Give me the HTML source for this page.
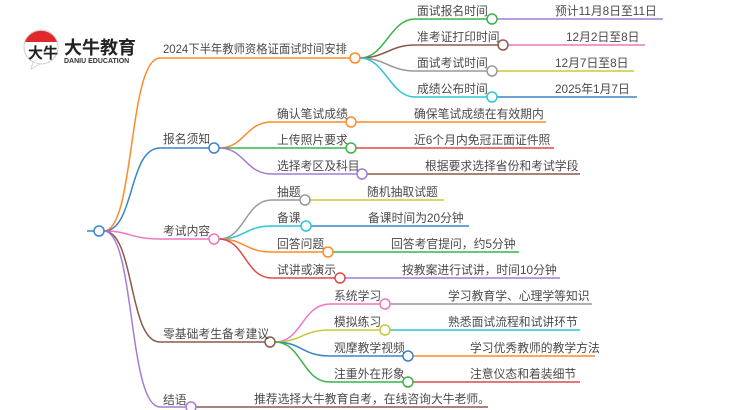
<!DOCTYPE html>
<html><head><meta charset="utf-8"><style>
html,body{margin:0;padding:0;background:#fff;}
svg{display:block;}
text{font-family:"Liberation Sans","Noto Sans CJK SC",sans-serif;font-size:11.8px;fill:#4a4a4a;}
</style></head><body>
<svg width="750" height="410" viewBox="0 0 750 410" xmlns="http://www.w3.org/2000/svg">
<g>
<circle cx="41" cy="47" r="17" fill="#fff" stroke="#ccc" stroke-width="1"/>
<path d="M25,42 A17,17 0 0 1 57,42 Z" fill="#e0282c"/>
<path d="M33,62 L31,69 L40,64 Z" fill="#fff" stroke="#ccc" stroke-width="0.8"/>
<text x="28" y="58" style="font-size:15px;fill:#222;font-weight:bold">大牛</text>
<text x="64" y="54" style="font-size:18px;font-weight:bold;fill:#222">大牛教育</text>
<text x="64" y="63" style="font-size:7px;font-weight:bold;fill:#333">DANIU EDUCATION</text>
</g>
<g fill="none" stroke-width="1.5">
<line x1="87" y1="231" x2="94" y2="231" stroke="#3a85c6"/>
<path d="M104,231 C135,231 128,58 160,58 L350,58" stroke="#ff8a2a"/>
<path d="M104,231 C135,231 128,148 160,148 L209,148" stroke="#3a85c6"/>
<path d="M104,231 C130,231 130,239 160,239 L209,239" stroke="#ee77c0"/>
<path d="M104,231 C135,231 128,342 160,342 L265,342" stroke="#8b5a4a"/>
<path d="M104,231 C135,231 128,407 160,407 L186,407" stroke="#a67bd6"/>
<path d="M360,58 C385,58 390,19 415,19 L487,19" stroke="#3cb44a"/>
<path d="M360,58 C385,58 390,45 415,45 L498,45" stroke="#8b5a4a"/>
<path d="M360,58 C385,58 390,71 415,71 L487,71" stroke="#999"/>
<path d="M360,58 C385,58 390,97 415,97 L487,97" stroke="#2bc6d8"/>
<line x1="497" y1="19" x2="663" y2="19" stroke="#a67bd6"/>
<line x1="508" y1="45" x2="645" y2="45" stroke="#ee77c0"/>
<line x1="497" y1="71" x2="634" y2="71" stroke="#c8c83a"/>
<line x1="497" y1="97" x2="637" y2="97" stroke="#3a85c6"/>
<path d="M219,148 C245,148 245,122 272,122 L346,122" stroke="#ff8a2a"/>
<path d="M219,148 L346,148" stroke="#3cb44a"/>
<path d="M219,148 C245,148 245,174 272,174 L357,174" stroke="#a67bd6"/>
<line x1="356" y1="122" x2="546" y2="122" stroke="#ff8a2a"/>
<line x1="356" y1="148" x2="554" y2="148" stroke="#e04848"/>
<line x1="367" y1="174" x2="580" y2="174" stroke="#8b5a4a"/>
<path d="M219,239 C245,239 245,200 272,200 L300,200" stroke="#999"/>
<path d="M219,239 C245,239 245,226 272,226 L301,226" stroke="#2bc6d8"/>
<path d="M219,239 C245,239 245,252 272,252 L323,252" stroke="#ff8a2a"/>
<path d="M219,239 C245,239 245,278 272,278 L335,278" stroke="#e04848"/>
<line x1="310" y1="200" x2="444" y2="200" stroke="#c8c83a"/>
<line x1="311" y1="226" x2="469" y2="226" stroke="#3a85c6"/>
<line x1="333" y1="252" x2="519" y2="252" stroke="#3cb44a"/>
<line x1="345" y1="278" x2="560" y2="278" stroke="#a67bd6"/>
<path d="M275,342 C302,342 302,304 330,304 L380,304" stroke="#ee77c0"/>
<path d="M275,342 C302,342 302,330 330,330 L380,330" stroke="#c8c83a"/>
<path d="M275,342 C302,342 302,356 330,356 L403,356" stroke="#3a85c6"/>
<path d="M275,342 C302,342 302,382 330,382 L403,382" stroke="#3cb44a"/>
<line x1="390" y1="304" x2="592" y2="304" stroke="#999"/>
<line x1="390" y1="330" x2="580" y2="330" stroke="#2bc6d8"/>
<line x1="413" y1="356" x2="595" y2="356" stroke="#ff8a2a"/>
<line x1="413" y1="382" x2="580" y2="382" stroke="#e04848"/>
<line x1="196" y1="407" x2="488" y2="407" stroke="#8b5a4a"/>
</g>
<g fill="#fff" stroke-width="1.5">
<circle cx="99" cy="231" r="5" stroke="#3a85c6"/>
<circle cx="355" cy="58" r="5" stroke="#ff8a2a"/>
<circle cx="214" cy="148" r="5" stroke="#3a85c6"/>
<circle cx="214" cy="239" r="5" stroke="#ee77c0"/>
<circle cx="270" cy="342" r="5" stroke="#8b5a4a"/>
<circle cx="191" cy="407" r="5" stroke="#a67bd6"/>
<circle cx="492" cy="19" r="5" stroke="#3cb44a"/>
<circle cx="503" cy="45" r="5" stroke="#8b5a4a"/>
<circle cx="492" cy="71" r="5" stroke="#999"/>
<circle cx="492" cy="97" r="5" stroke="#2bc6d8"/>
<circle cx="351" cy="122" r="5" stroke="#ff8a2a"/>
<circle cx="351" cy="148" r="5" stroke="#3cb44a"/>
<circle cx="362" cy="174" r="5" stroke="#a67bd6"/>
<circle cx="305" cy="200" r="5" stroke="#999"/>
<circle cx="306" cy="226" r="5" stroke="#2bc6d8"/>
<circle cx="328" cy="252" r="5" stroke="#ff8a2a"/>
<circle cx="340" cy="278" r="5" stroke="#e04848"/>
<circle cx="385" cy="304" r="5" stroke="#ee77c0"/>
<circle cx="385" cy="330" r="5" stroke="#c8c83a"/>
<circle cx="408" cy="356" r="5" stroke="#3a85c6"/>
<circle cx="408" cy="382" r="5" stroke="#3cb44a"/>
</g>
<g>
<text x="163" y="53" textLength="184" lengthAdjust="spacingAndGlyphs">2024下半年教师资格证面试时间安排</text>
<text x="163" y="143">报名须知</text>
<text x="163" y="235">考试内容</text>
<text x="163" y="338">零基础考生备考建议</text>
<text x="163" y="404">结语</text>
<text x="417" y="15">面试报名时间</text>
<text x="417" y="41">准考证打印时间</text>
<text x="417" y="67">面试考试时间</text>
<text x="417" y="93">成绩公布时间</text>
<text x="555" y="15">预计11月8日至11日</text>
<text x="566" y="41">12月2日至8日</text>
<text x="555" y="67">12月7日至8日</text>
<text x="555" y="93">2025年1月7日</text>
<text x="277" y="118">确认笔试成绩</text>
<text x="277" y="144">上传照片要求</text>
<text x="277" y="170">选择考区及科目</text>
<text x="414" y="118">确保笔试成绩在有效期内</text>
<text x="414" y="144">近6个月内免冠正面证件照</text>
<text x="425" y="170">根据要求选择省份和考试学段</text>
<text x="277" y="196">抽题</text>
<text x="277" y="222">备课</text>
<text x="277" y="248">回答问题</text>
<text x="277" y="274">试讲或演示</text>
<text x="367" y="196">随机抽取试题</text>
<text x="368" y="222">备课时间为20分钟</text>
<text x="391" y="248">回答考官提问，约5分钟</text>
<text x="402" y="274">按教案进行试讲，时间10分钟</text>
<text x="334" y="300">系统学习</text>
<text x="334" y="326">模拟练习</text>
<text x="334" y="352">观摩教学视频</text>
<text x="334" y="378">注重外在形象</text>
<text x="448" y="300">学习教育学、心理学等知识</text>
<text x="448" y="326">熟悉面试流程和试讲环节</text>
<text x="470" y="352">学习优秀教师的教学方法</text>
<text x="470" y="378">注意仪态和着装细节</text>
<text x="254" y="403">推荐选择大牛教育自考，在线咨询大牛老师。</text>
</g>
</svg>
</body></html>
